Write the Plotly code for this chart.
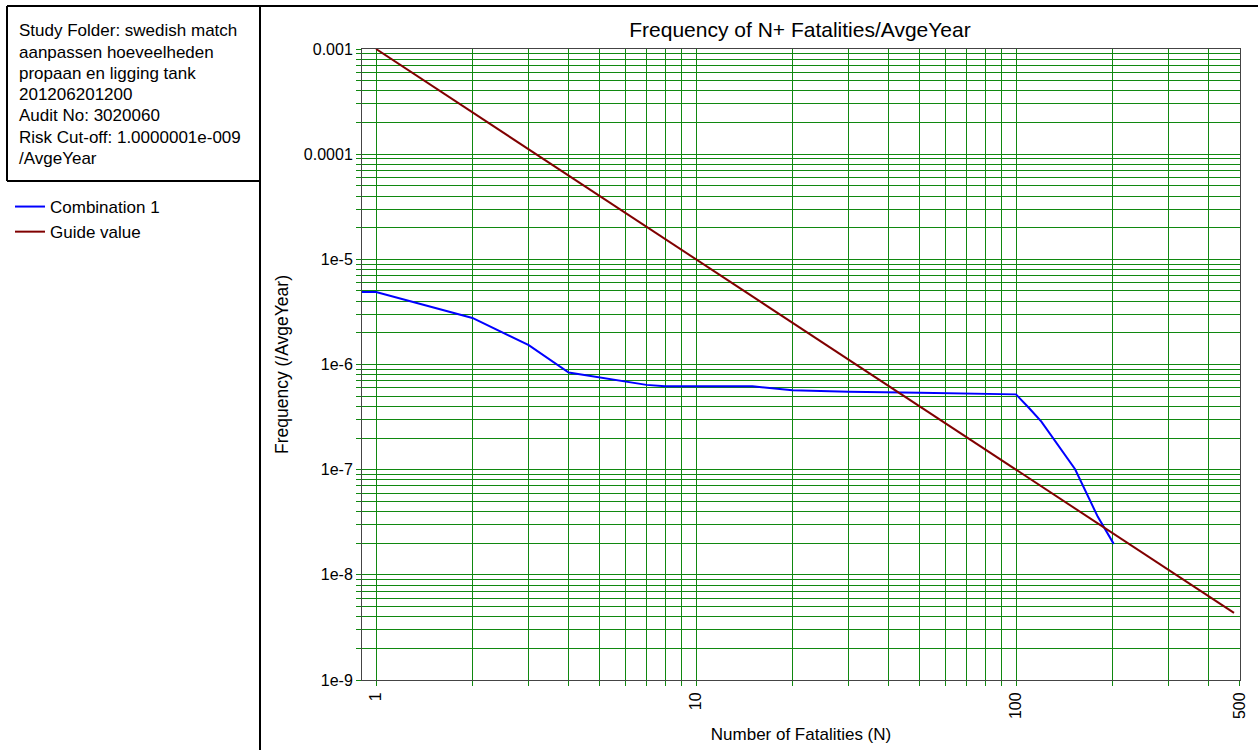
import plotly.graph_objects as go

# ---------------- data ----------------
combo_n = [0.9, 1, 2, 3, 4, 5, 7, 8, 15, 20, 30, 50, 70, 100, 110, 120, 153, 180, 202]
combo_f = [4.9e-6, 4.9e-6, 2.77e-6, 1.53e-6, 8.4e-7, 7.5e-7, 6.4e-7, 6.2e-7, 6.2e-7,
           5.7e-7, 5.5e-7, 5.4e-7, 5.3e-7, 5.2e-7, 3.84e-7, 2.86e-7, 1.01e-7, 3.58e-8, 1.97e-8]

guide_n = [1, 10, 100, 480]
guide_f = [1e-3, 1e-5, 1e-7, 4.34e-9]

x_tickvals = [1, 2, 3, 4, 5, 6, 7, 8, 9, 10, 20, 30, 40, 50, 60, 70, 80, 90,
              100, 200, 300, 400, 500]
x_labels = {1: "1", 10: "10", 100: "100", 500: "500"}
x_ticktext = [x_labels.get(v, "") for v in x_tickvals]

y_decades = [1e-9, 1e-8, 1e-7, 1e-6, 1e-5, 1e-4, 1e-3]
y_decade_labels = ["1e-9", "1e-8", "1e-7", "1e-6", "1e-5", "0.0001", "0.001"]

info_lines = ["Study Folder: swedish match",
              "aanpassen hoeveelheden",
              "propaan en ligging tank",
              "201206201200",
              "Audit No: 3020060",
              "Risk Cut-off: 1.0000001e-009",
              "/AvgeYear"]

y_tickvals, y_ticktext = [], []
for d, lab in zip(y_decades, y_decade_labels):
    for m in range(1, 10):
        v = m * d
        if v > 1e-3 * 1.0001:
            break
        y_tickvals.append(v)
        y_ticktext.append(lab if m == 1 else "")

FONT = "Liberation Sans, Arial, sans-serif"
W, H = 1258, 750
L, R, T, B = 362, 1240, 49, 680


def px2x(px):
    return (px - L) / (R - L)


def py2y(py):
    return (B - py) / (B - T)


fig = go.Figure()
fig.add_trace(go.Scatter(x=combo_n, y=combo_f, mode="lines", name="Combination 1",
                         line=dict(color="#0000ff", width=2)))
fig.add_trace(go.Scatter(x=guide_n, y=guide_f, mode="lines", name="Guide value",
                         line=dict(color="#800000", width=2)))

axis_common = dict(type="log", showline=True, linecolor="#444444", linewidth=1, mirror=True,
                   showgrid=True, gridcolor="#108810", gridwidth=1, zeroline=False,
                   ticks="outside", ticklen=5, tickcolor="#108810", tickwidth=1,
                   automargin=False,
                   tickfont=dict(family=FONT, size=16, color="#000000"))

fig.update_xaxes(range=[-0.044, 2.7], tickmode="array", tickvals=x_tickvals,
                 ticktext=x_ticktext, tickangle=-90,
                 title=dict(text="Number of Fatalities (N)", font=dict(family=FONT, size=17, color="#000"),
                            standoff=9),
                 **axis_common)
fig.update_yaxes(range=[-9, -3], tickmode="array", tickvals=y_tickvals,
                 ticktext=y_ticktext,
                 title=dict(text="Frequency (/AvgeYear)", font=dict(family=FONT, size=17.5, color="#000"),
                            standoff=10),
                 **axis_common)

shapes = []
line_style = dict(color="#000000", width=2)
shapes.append(dict(type="line", xref="paper", yref="paper", x0=px2x(7), x1=px2x(1258),
                   y0=py2y(6), y1=py2y(6), line=line_style))
shapes.append(dict(type="line", xref="paper", yref="paper", x0=px2x(7), x1=px2x(7),
                   y0=py2y(6), y1=py2y(181), line=line_style))
shapes.append(dict(type="line", xref="paper", yref="paper", x0=px2x(7), x1=px2x(260),
                   y0=py2y(181), y1=py2y(181), line=line_style))
shapes.append(dict(type="line", xref="paper", yref="paper", x0=px2x(260), x1=px2x(260),
                   y0=py2y(6), y1=py2y(752), line=line_style))

annotations = []
for i, txt in enumerate(info_lines):
    annotations.append(dict(text=txt, xref="paper", yref="paper", x=px2x(17),
                            y=py2y(31 + i * 21.2), xanchor="left", yanchor="middle",
                            showarrow=False, font=dict(family=FONT, size=17, color="#000")))

fig.update_layout(
    width=W, height=H, autosize=False,
    margin=dict(l=L, r=W - R, t=T, b=H - B, pad=0, autoexpand=False),
    paper_bgcolor="white", plot_bgcolor="white",
    title=dict(text="Frequency of N+ Fatalities/AvgeYear", x=800 / W,
               xanchor="center", y=1 - 30 / H, yanchor="middle",
               font=dict(family=FONT, size=21, color="#000")),
    showlegend=True,
    legend=dict(x=px2x(10), y=py2y(189), xanchor="left", yanchor="top",
                bgcolor="rgba(0,0,0,0)", font=dict(family=FONT, size=17, color="#000"),
                tracegroupgap=0),
    shapes=shapes, annotations=annotations,
)

fig.write_html("out.html")
